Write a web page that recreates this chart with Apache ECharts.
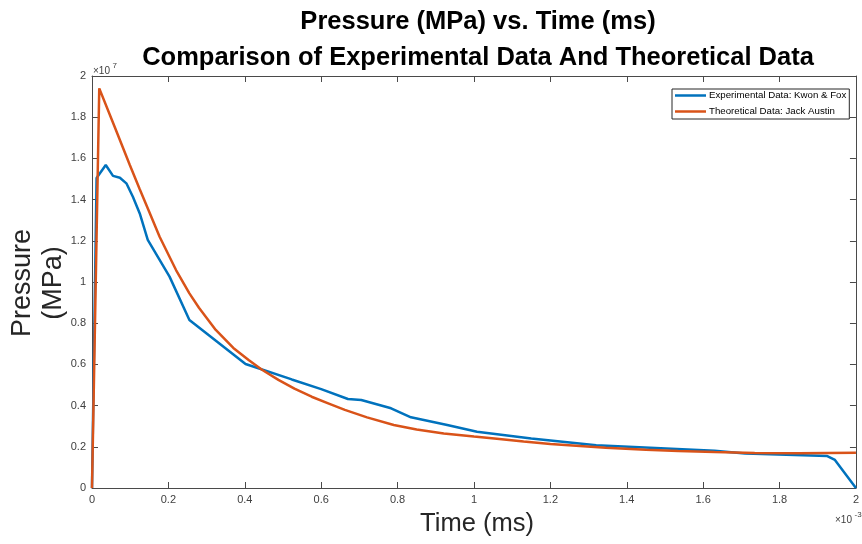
<!DOCTYPE html>
<html>
<head>
<meta charset="utf-8">
<script src="https://cdn.jsdelivr.net/npm/echarts@6/dist/echarts.min.js"></script>
<style>html,body{margin:0;padding:0;background:#fff}#c{width:862px;height:544px}</style>
</head>
<body>
<div id="c"></div>
<script>
// Time in ms (axis shown as ×10^-3 s), pressure in units of 1e7 Pa
var expTime = [0, 0.012, 0.036, 0.055, 0.073, 0.09, 0.107, 0.125, 0.146, 0.203, 0.255, 0.402, 0.523, 0.60, 0.67, 0.705, 0.783, 0.835, 0.93, 1.008, 1.15, 1.32, 1.63, 1.71, 1.925, 1.945, 2.0];
var expPressure = [0, 1.505, 1.568, 1.515, 1.506, 1.479, 1.414, 1.333, 1.204, 1.026, 0.816, 0.602, 0.527, 0.48, 0.432, 0.427, 0.387, 0.343, 0.306, 0.273, 0.24, 0.207, 0.181, 0.168, 0.155, 0.136, 0];
var theoTime = [0, 0.019, 0.06, 0.099, 0.125, 0.15, 0.177, 0.22, 0.255, 0.28, 0.324, 0.37, 0.41, 0.445, 0.488, 0.53, 0.575, 0.62, 0.662, 0.72, 0.79, 0.85, 0.921, 1.0, 1.06, 1.13, 1.2, 1.345, 1.45, 1.535, 1.63, 1.735, 1.85, 2.0];
var theoPressure = [0, 1.94, 1.75, 1.568, 1.45, 1.34, 1.22, 1.058, 0.945, 0.875, 0.767, 0.68, 0.621, 0.574, 0.525, 0.482, 0.443, 0.41, 0.379, 0.343, 0.306, 0.284, 0.265, 0.25, 0.239, 0.226, 0.214, 0.195, 0.186, 0.18, 0.175, 0.17, 0.169, 0.171];
var seriesNames = ['Experimental Data: Kwon & Fox', 'Theoretical Data: Jack Austin'];
var titleLines = ['Pressure (MPa) vs. Time (ms)', 'Comparison of Experimental Data And Theoretical Data'];
var xName = 'Time (ms)';
var yNameLines = ['Pressure', '(MPa)'];

function pairs(xs, ys) { return xs.map(function (x, i) { return [x, ys[i]]; }); }

var FF = '"Liberation Sans", Arial, sans-serif';
var axisColor = '#4a4a4a';
var labelColor = '#404040';

var chart = echarts.init(document.getElementById('c'));

function baseAxis(pos, showLabel) {
  return {
    type: 'value', position: pos, min: 0, max: 2, interval: 0.2,
    axisLine: { show: true, onZero: false, lineStyle: { color: axisColor, width: 1 } },
    axisTick: { show: true, inside: true, length: 6, lineStyle: { color: axisColor, width: 1 } },
    axisLabel: { show: showLabel, color: labelColor, fontSize: 11, fontFamily: FF, margin: 6 },
    splitLine: { show: false }
  };
}

var option = {
  backgroundColor: '#fff',
  animation: false,
  grid: { left: 92, right: 1, top: 76, bottom: 56, containLabel: false },
  xAxis: [baseAxis('bottom', true), baseAxis('top', false)],
  yAxis: [baseAxis('left', true), baseAxis('right', false)],
  legend: {
    orient: 'vertical', left: 672, top: 89,
    padding: [0, 3, 1, 3], itemGap: 3, itemWidth: 31, itemHeight: 2.5, icon: 'rect',
    borderColor: '#262626', borderWidth: 1, backgroundColor: '#fff',
    textStyle: { fontSize: 9.7, lineHeight: 13, fontFamily: FF, color: '#000', padding: [0, 0, 0, -2] },
    data: seriesNames
  },
  series: [
    {
      name: seriesNames[0], type: 'line', symbol: 'none', xAxisIndex: 0, yAxisIndex: 0,
      data: pairs(expTime, expPressure),
      lineStyle: { color: '#0072BD', width: 2.5 }, itemStyle: { color: '#0072BD' }
    },
    {
      name: seriesNames[1], type: 'line', symbol: 'none', xAxisIndex: 0, yAxisIndex: 0,
      data: pairs(theoTime, theoPressure),
      lineStyle: { color: '#D95319', width: 2.5 }, itemStyle: { color: '#D95319' }
    }
  ],
  graphic: [
    { type: 'text', x: 478, y: 22, style: { text: titleLines[0], font: 'bold 25.5px ' + FF, fill: '#000', textAlign: 'center', textVerticalAlign: 'middle', align: 'center', verticalAlign: 'middle' } },
    { type: 'text', x: 478, y: 57.5, style: { text: titleLines[1], font: 'bold 25.5px ' + FF, fill: '#000', textAlign: 'center', textVerticalAlign: 'middle', align: 'center', verticalAlign: 'middle' } },
    { type: 'text', x: 477, y: 524, style: { text: xName, font: '25.5px ' + FF, fill: '#262626', textAlign: 'center', textVerticalAlign: 'middle', align: 'center', verticalAlign: 'middle' } },
    { type: 'text', x: 23, y: 283, rotation: Math.PI / 2, style: { text: yNameLines[0], font: '27px ' + FF, fill: '#262626', textAlign: 'center', textVerticalAlign: 'middle', align: 'center', verticalAlign: 'middle' } },
    { type: 'text', x: 54, y: 283, rotation: Math.PI / 2, style: { text: yNameLines[1], font: '27px ' + FF, fill: '#262626', textAlign: 'center', textVerticalAlign: 'middle', align: 'center', verticalAlign: 'middle' } },
    { type: 'text', x: 93, y: 71, style: { text: '×10', font: '10px ' + FF, fill: labelColor, textAlign: 'left', textVerticalAlign: 'middle', align: 'left', verticalAlign: 'middle' } },
    { type: 'text', x: 112.5, y: 66, style: { text: '7', font: '8px ' + FF, fill: labelColor, textAlign: 'left', textVerticalAlign: 'middle', align: 'left', verticalAlign: 'middle' } },
    { type: 'text', x: 835, y: 520, style: { text: '×10', font: '10px ' + FF, fill: labelColor, textAlign: 'left', textVerticalAlign: 'middle', align: 'left', verticalAlign: 'middle' } },
    { type: 'text', x: 854.5, y: 515, style: { text: '-3', font: '8px ' + FF, fill: labelColor, textAlign: 'left', textVerticalAlign: 'middle', align: 'left', verticalAlign: 'middle' } }
  ]
};
chart.setOption(option);
</script>
</body>
</html>
